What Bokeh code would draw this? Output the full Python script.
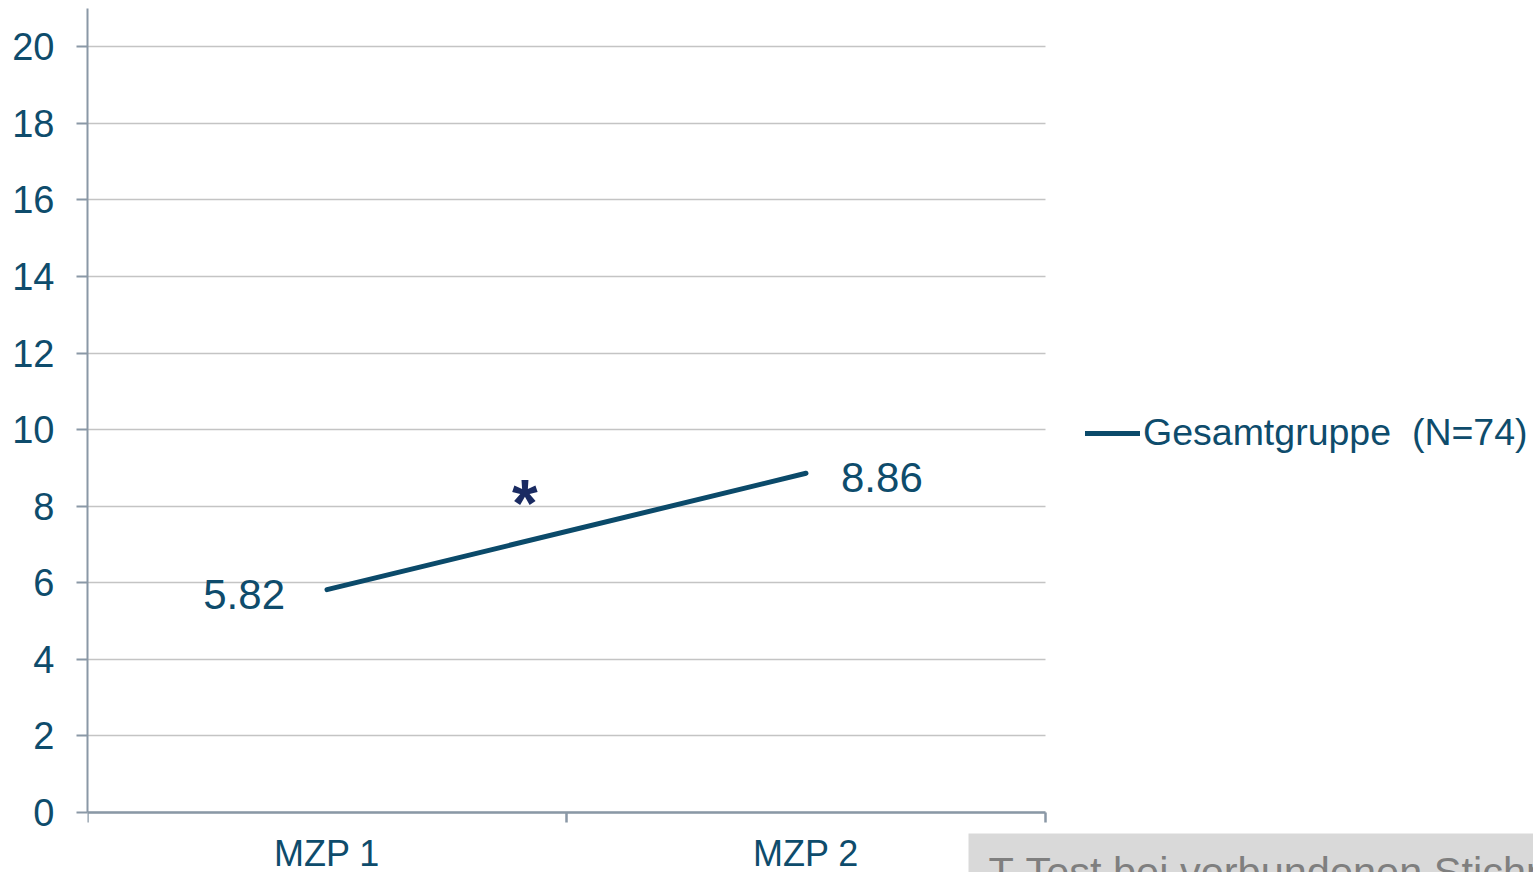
from bokeh.plotting import figure
from bokeh.models import Range1d, FixedTicker, Legend, LegendItem, Label
from bokeh.core.properties import value
from bokeh.embed import file_html
from bokeh.resources import INLINE

# ---- data ----
categories = ["MZP 1", "MZP 2"]
series_name = "Gesamtgruppe  (N=74)"
values = [5.82, 8.86]
y_ticks = [0, 2, 4, 6, 8, 10, 12, 14, 16, 18, 20]
significance = "*"
note_text = "T-Test bei verbundenen Stichproben"

FONT = "Liberation Sans"
TEXT_C = "#0e4c6c"
LINE_C = "#0b4a6a"
AXIS_C = "#8a98a6"
GRID_C = "#c4c4c4"

# ---- layout geometry (pixels) ----
W, H = 1533, 872
LEFT, TOP = 87, 8
PLOT_W, PLOT_H = 958, 804          # size of the drawn chart area
Y_TOP = 21                          # value at the top of the axis
FRAME_W, FRAME_H = W - LEFT, H - TOP

n = len(categories)
x_pos = [i + 0.5 for i in range(n)]
x_end = n * FRAME_W / PLOT_W
y_start = Y_TOP - FRAME_H * Y_TOP / PLOT_H

p = figure(width=W, height=H, output_backend="svg", toolbar_location=None,
           x_range=Range1d(0, x_end), y_range=Range1d(y_start, Y_TOP),
           min_border_left=LEFT, min_border_right=0, min_border_top=TOP,
           min_border_bottom=0)
p.outline_line_color = None
p.background_fill_color = "white"

# x axis at y=0, labels at category centres, ticks at category boundaries
xa = p.xaxis[0]
xa.fixed_location = 0
xa.bounds = (0, n)
xa.ticker = FixedTicker(ticks=x_pos, minor_ticks=[float(i) for i in range(n + 1)])
xa.major_label_overrides = {x: c for x, c in zip(x_pos, categories)}
xa.major_tick_line_color = None
xa.major_tick_out = 0
xa.major_tick_in = 0
xa.minor_tick_out = 10
xa.minor_tick_in = 0
xa.minor_tick_line_color = AXIS_C
xa.minor_tick_line_width = 2.5
xa.axis_line_color = AXIS_C
xa.axis_line_width = 2.5
xa.major_label_standoff = 10
xa.major_label_text_font = FONT
xa.major_label_text_font_size = "36px"
xa.major_label_text_color = TEXT_C

ya = p.yaxis[0]
ya.bounds = (0, Y_TOP)
ya.ticker = FixedTicker(ticks=y_ticks)
ya.major_tick_out = 11
ya.major_tick_in = 0
ya.minor_tick_line_color = None
ya.axis_line_color = AXIS_C
ya.axis_line_width = 2
ya.major_tick_line_color = AXIS_C
ya.major_tick_line_width = 2
ya.major_label_standoff = 22
ya.major_label_text_font = FONT
ya.major_label_text_font_size = "38px"
ya.major_label_text_color = TEXT_C

p.xgrid.grid_line_color = None
p.ygrid.ticker = FixedTicker(ticks=y_ticks)
p.ygrid.cross_bounds = (0, n)
p.ygrid.grid_line_color = GRID_C
p.ygrid.grid_line_width = 1.5

# series line
r = p.line(x=x_pos, y=values, line_width=5, line_color=LINE_C, line_cap="round")

# data labels
p.text(x=[x_pos[0]], y=[values[0]], text=[f"{values[0]:.2f}"], x_offset=-42,
       y_offset=5, text_align="right", text_baseline="middle",
       text_font=value(FONT), text_font_size="42px", text_color=TEXT_C)
p.text(x=[x_pos[1]], y=[values[1]], text=[f"{values[1]:.2f}"], x_offset=35,
       y_offset=4, text_align="left", text_baseline="middle",
       text_font=value(FONT), text_font_size="42px", text_color=TEXT_C)

# significance marker
p.add_layout(Label(x=0.913, y=8.09, text=significance, text_align="center",
                   text_baseline="middle", text_font=FONT, text_font_size="66px",
                   text_font_style="bold", text_color="#1a2b62"))

# legend
legend = Legend(items=[LegendItem(label=series_name, renderers=[r])],
                location=(998, 418), glyph_width=55, glyph_height=40,
                label_standoff=3, padding=0, margin=0, spacing=0,
                border_line_color=None, background_fill_alpha=0,
                label_text_font=FONT, label_text_font_size="37.5px",
                label_text_color=TEXT_C)
p.add_layout(legend, "center")

# note box
p.add_layout(Label(x=881, y=39, x_units="screen", y_units="screen",
                   text=note_text, text_align="left", text_baseline="top",
                   text_font=FONT, text_font_size="41.5px", text_color="#7f7f7f",
                   background_fill_color="#d9d9d9", padding=(20, 20, 14, 14)))

open("out.html", "w").write(file_html(p, INLINE))
